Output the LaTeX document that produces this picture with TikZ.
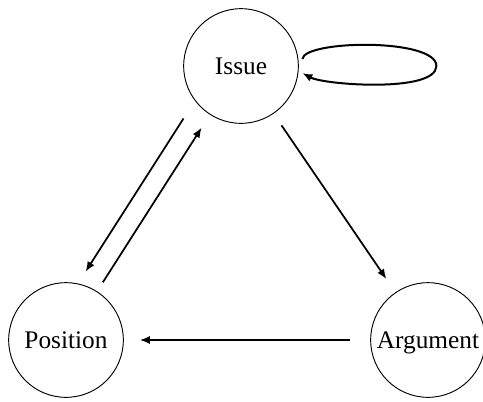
\documentclass[tikz,border=0pt]{standalone}
\usepackage{fontspec}
\setmainfont{Liberation Serif}
\usetikzlibrary{arrows.meta}

\begin{document}
\begin{tikzpicture}[x=0.75pt,y=0.75pt,yscale=-1,xscale=1,
  ibis/.style={draw,circle,line width=0.7pt,minimum size=86pt,inner sep=0pt,text depth=0pt,
    font=\fontsize{19}{22}\selectfont},
  arr/.style={-{Latex[length=7.5pt,width=6pt]},line width=1.3pt}]
\useasboundingbox (0,0) rectangle (483,401);

%Shape: Circle [Issue]
\node[ibis] (issue) at (241,66) {Issue};
%Shape: Circle [Position]
\node[ibis] (position) at (66,340) {Position};
%Shape: Circle [Argument]
\node[ibis] (argument) at (428,340) {Argument};

%Curve Lines [self loop]
\draw[arr,line width=1.5pt] ([xshift=3pt]issue.7) .. controls +(2,-19) and +(0,-28) .. ++(134,7)
  .. controls +(0,27) and +(22,12) .. ([xshift=3pt]issue.-7);
%Straight Lines [issue to position]
\draw[arr,shorten <=15.75pt,shorten >=10.5pt] (issue.217) -- (position.78);
%Straight Lines [position to issue]
\draw[arr,shorten <=8pt,shorten >=11.5pt] (position) -- (issue);
%Straight Lines [issue to argument]
\draw[arr,shorten <=10.5pt,shorten >=12pt] (issue) -- (argument);
%Straight Lines [argument to position]
\draw[arr,shorten <=15pt,shorten >=12pt] (argument) -- (position);

\end{tikzpicture}
\end{document}
